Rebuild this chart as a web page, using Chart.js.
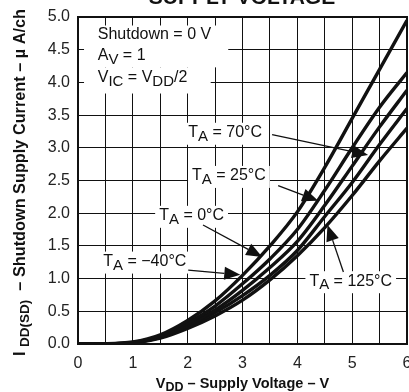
<!DOCTYPE html>
<html>
<head>
<meta charset="utf-8">
<script src="https://cdn.jsdelivr.net/npm/chart.js@4/dist/chart.umd.min.js"></script>
<style>
html,body{margin:0;padding:0;background:#fff;}
#wrap{width:409px;height:392px;position:relative;}
</style>
</head>
<body>
<div id="wrap"><canvas id="c" width="409" height="392"></canvas></div>
<script>
// ---- data ----
const voltage   = [0, 0.5, 1, 1.5, 2, 2.5, 3, 3.5, 4, 4.5, 5, 5.5, 6];
const iMinus40C = [0, 0.003, 0.03, 0.14, 0.36, 0.66, 1.05, 1.50, 2.02, 2.70, 3.45, 4.20, 4.95];
const i0C       = [0, 0.002, 0.025, 0.12, 0.32, 0.58, 0.92, 1.30, 1.75, 2.35, 3.00, 3.62, 4.15];
const i25C      = [0, 0.002, 0.022, 0.11, 0.29, 0.52, 0.82, 1.17, 1.57, 2.12, 2.72, 3.32, 3.88];
const i70C      = [0, 0.002, 0.020, 0.10, 0.27, 0.48, 0.74, 1.05, 1.43, 1.95, 2.47, 3.05, 3.60];
const i125C     = [0, 0.001, 0.016, 0.09, 0.24, 0.43, 0.67, 0.98, 1.35, 1.78, 2.27, 2.80, 3.30];
const seriesNames = ['−40°C', '0°C', '25°C', '70°C', '125°C'];
const xTickLabels = ['0', '1', '2', '3', '4', '5', '6'];
const yTickLabels = ['0.0', '0.5', '1.0', '1.5', '2.0', '2.5', '3.0', '3.5', '4.0', '4.5', '5.0'];

// label anchors (data units): text left/centre-y, arrow start, arrow tip
const labelTemps  = ['70°C', '25°C', '0°C', '−40°C', '125°C'];
const labelPos    = [[2.01, 3.23], [2.08, 2.57], [1.48, 1.96], [0.46, 1.26], [4.22, 0.96]];
const arrowFrom   = [[3.54, 3.20], [3.65, 2.42], [2.28, 1.82], [2.01, 1.13], [4.84, 1.10]];
const arrowTip    = [[5.29, 2.89], [4.38, 2.19], [3.36, 1.33], [2.96, 1.06], [4.55, 1.82]];

const FONT = '"Liberation Sans", Arial, Helvetica, sans-serif';
const series = [iMinus40C, i0C, i25C, i70C, i125C];

function richWidth(ctx, segs, font, subFont) {
  let w = 0;
  for (const s of segs) { ctx.font = s.s ? subFont : font; w += ctx.measureText(s.t).width; }
  return w;
}
function drawRich(ctx, x, y, segs, font, subFont, subDy) {
  let cx = x;
  for (const s of segs) {
    ctx.font = s.s ? subFont : font;
    ctx.fillText(s.t, cx, y + (s.s ? subDy : 0));
    cx += ctx.measureText(s.t).width;
  }
  return cx;
}

const decorations = {
  id: 'decorations',
  beforeDatasetsDraw(chart) {
    const ctx = chart.ctx, xs = chart.scales.x, ys = chart.scales.y;
    const lf = '16px ' + FONT, sf = '15px ' + FONT;
    ctx.save();
    // notes box
    ctx.fillStyle = '#fff';
    const nx = xs.getPixelForValue(0.11);
    ctx.fillRect(nx, ys.getPixelForValue(4.87), xs.getPixelForValue(2.74) - nx, ys.getPixelForValue(4.23) - ys.getPixelForValue(4.87));
    ctx.fillRect(nx, ys.getPixelForValue(4.23), xs.getPixelForValue(2.42) - nx, ys.getPixelForValue(3.83) - ys.getPixelForValue(4.23));
    ctx.fillStyle = '#111';
    ctx.textBaseline = 'middle';
    ctx.textAlign = 'left';
    const tx = xs.getPixelForValue(0.36);
    drawRich(ctx, tx, ys.getPixelForValue(4.73), [{t:'Shutdown = 0 V'}], lf, sf, 4);
    drawRich(ctx, tx, ys.getPixelForValue(4.41), [{t:'A'},{t:'V',s:1},{t:' = 1'}], lf, sf, 4);
    drawRich(ctx, tx, ys.getPixelForValue(4.07), [{t:'V'},{t:'IC',s:1},{t:' = V'},{t:'DD',s:1},{t:'/2'}], lf, sf, 4);
    // temperature labels
    labelTemps.forEach((tmp, i) => {
      const segs = [{t:'T'},{t:'A',s:1},{t:' = ' + tmp}];
      const px = xs.getPixelForValue(labelPos[i][0]);
      const py = ys.getPixelForValue(labelPos[i][1]);
      const w = richWidth(ctx, segs, lf, sf);
      ctx.fillStyle = '#fff';
      ctx.fillRect(px - 4, py - 10, w + 8, 22);
      ctx.fillStyle = '#111';
      drawRich(ctx, px, py, segs, lf, sf, 4);
    });
    ctx.restore();
  },
  afterDatasetsDraw(chart) {
    const ctx = chart.ctx, xs = chart.scales.x, ys = chart.scales.y, a = chart.chartArea;
    ctx.save();
    // arrows
    ctx.strokeStyle = '#111'; ctx.fillStyle = '#111'; ctx.lineWidth = 1.3;
    arrowFrom.forEach((f, i) => {
      const x0 = xs.getPixelForValue(f[0]), y0 = ys.getPixelForValue(f[1]);
      const x1 = xs.getPixelForValue(arrowTip[i][0]), y1 = ys.getPixelForValue(arrowTip[i][1]);
      const ang = Math.atan2(y1 - y0, x1 - x0);
      const L = 16, W = 6.5;
      const bx = x1 - L * Math.cos(ang), by = y1 - L * Math.sin(ang);
      ctx.beginPath(); ctx.moveTo(x0, y0); ctx.lineTo(bx, by); ctx.stroke();
      ctx.beginPath();
      ctx.moveTo(x1, y1);
      ctx.lineTo(bx + W * Math.sin(ang), by - W * Math.cos(ang));
      ctx.lineTo(bx - W * Math.sin(ang), by + W * Math.cos(ang));
      ctx.closePath(); ctx.fill();
    });
    // frame
    ctx.lineWidth = 2; ctx.strokeStyle = '#111';
    ctx.strokeRect(a.left, a.top, a.right - a.left, a.bottom - a.top);
    // top header (cut off in reference)
    ctx.fillStyle = '#111';
    ctx.font = 'bold 21px ' + FONT;
    ctx.textAlign = 'center'; ctx.textBaseline = 'alphabetic';
    ctx.fillText('SUPPLY VOLTAGE', 242, 4);
    // x title
    const xf = 'bold 14.5px ' + FONT, xsf = 'bold 12.5px ' + FONT;
    const xsegs = [{t:'V'},{t:'DD',s:1},{t:' – Supply Voltage – V'}];
    ctx.textAlign = 'left';
    const xw = richWidth(ctx, xsegs, xf, xsf);
    drawRich(ctx, (a.left + a.right) / 2 - xw / 2, 388, xsegs, xf, xsf, 3);
    // y title (rotated)
    ctx.translate(25, 356);
    ctx.rotate(-Math.PI / 2);
    const ysegs = [{t:'I '},{t:'DD(SD)',s:1},{t:'  – Shutdown Supply Current – µ A/ch'}];
    drawRich(ctx, 0, 0, ysegs, 'bold 16.3px ' + FONT, 'bold 13.5px ' + FONT, 4);
    ctx.restore();
  }
};

const datasets = series.map((arr, i) => ({
  label: seriesNames[i],
  data: voltage.map((v, k) => ({x: v, y: arr[k]})),
  borderColor: '#111',
  borderWidth: 3.4,
  pointRadius: 0,
  fill: false,
  cubicInterpolationMode: 'monotone'
}));

new Chart(document.getElementById('c'), {
  type: 'line',
  data: { datasets },
  options: {
    responsive: false,
    animation: false,
    events: [],
    layout: { padding: { top: 17, right: 2, bottom: 0, left: 0 } },
    plugins: { legend: { display: false }, tooltip: { enabled: false }, title: { display: false } },
    scales: {
      x: {
        type: 'linear', min: 0, max: 6,
        ticks: {
          stepSize: 0.5, autoSkip: false, maxRotation: 0, padding: 10,
          color: '#222', font: { family: FONT, size: 16 },
          callback: (v) => Number.isInteger(v) ? xTickLabels[v] : ''
        },
        grid: { color: '#111', lineWidth: 1, drawTicks: false },
        border: { color: '#111', width: 2 },
        afterFit: (s) => { s.height = 48; s.paddingLeft = 0; s.paddingRight = 0; }
      },
      y: {
        type: 'linear', min: 0, max: 5,
        ticks: {
          stepSize: 0.5, autoSkip: false, padding: 8,
          color: '#222', font: { family: FONT, size: 16 },
          callback: (v) => yTickLabels[Math.round(v * 2)]
        },
        grid: { color: '#111', lineWidth: 1, drawTicks: false },
        border: { color: '#111', width: 2 },
        afterFit: (s) => { s.width = 78; s.paddingTop = 0; s.paddingBottom = 0; }
      }
    }
  },
  plugins: [decorations]
});
</script>
</body>
</html>
